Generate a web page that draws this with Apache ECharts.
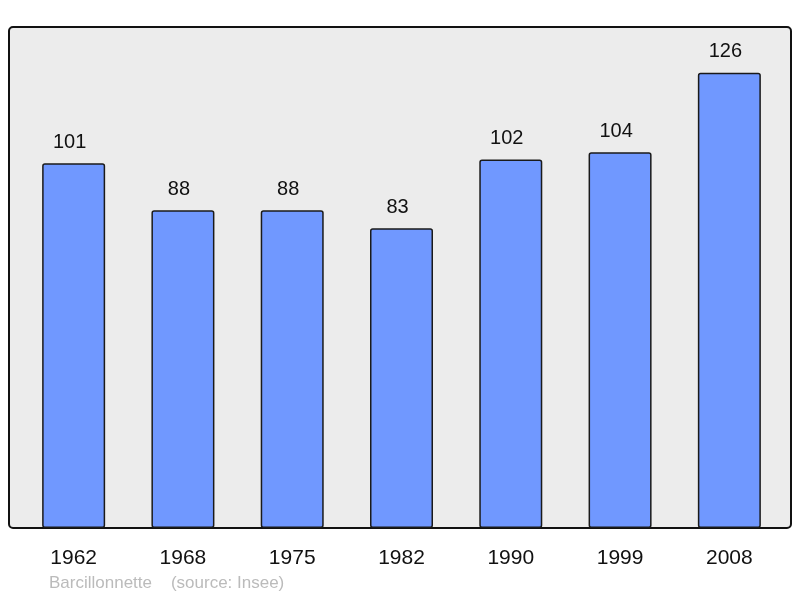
<!DOCTYPE html>
<html>
<head>
<meta charset="utf-8">
<style>
    html, body { margin: 0; padding: 0; background: #fff; }
    #chart { width: 800px; height: 598px; }
</style>
<script src="https://cdn.jsdelivr.net/npm/echarts@6/dist/echarts.min.js"></script>
</head>
<body>
<div id="chart"></div>
<script>
// ---- data ----
const years = ['1962', '1968', '1975', '1982', '1990', '1999', '2008'];
const population = [101, 88, 88, 83, 102, 104, 126];

const chart = echarts.init(document.getElementById('chart'));
chart.setOption({
    backgroundColor: '#ffffff',
    animation: false,
    graphic: [
        {
            type: 'rect',
            z: -10,
            shape: { x: 9, y: 27, width: 782, height: 501, r: 4 },
            style: { fill: '#ececec', stroke: '#111', lineWidth: 2 }
        },
        {
            type: 'text',
            left: 49,
            top: 575,
            style: {
                text: 'Barcillonnette    (source: Insee)',
                fill: '#bbbbbb',
                font: '17px "Liberation Sans", Arial, sans-serif'
            }
        }
    ],
    grid: { left: 19, width: 765, top: 27, bottom: 70 },
    xAxis: {
        type: 'category',
        data: years,
        axisLine: { show: false },
        axisTick: { show: false },
        axisLabel: {
            color: '#111',
            fontSize: 21,
            fontFamily: '"Liberation Sans", Arial, sans-serif',
            margin: 20
        }
    },
    yAxis: {
        type: 'value',
        min: 0,
        max: 138.7,
        show: false
    },
    series: [{
        type: 'bar',
        data: population,
        barWidth: 63,
        itemStyle: {
            color: '#7098ff',
            borderColor: '#1a1a1a',
            borderWidth: 1.5,
            borderRadius: 2
        },
        label: {
            show: true,
            position: 'top',
            distance: 11,
            offset: [-4, 0],
            color: '#111',
            fontSize: 20,
            fontFamily: '"Liberation Sans", Arial, sans-serif'
        }
    }]
});
</script>
</body>
</html>
